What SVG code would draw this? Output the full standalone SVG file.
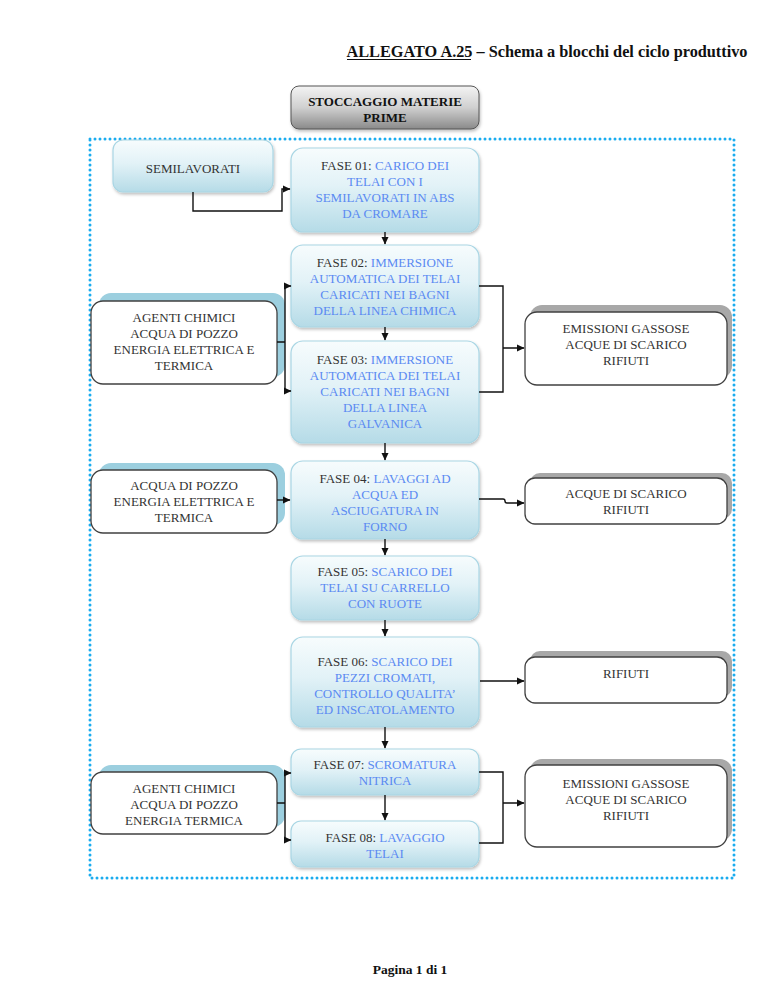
<svg xmlns="http://www.w3.org/2000/svg" width="768" height="994" viewBox="0 0 768 994">
<style>
text{font-family:"Liberation Serif","Times New Roman",serif;font-size:13px;fill:#333;text-anchor:middle}
.b{font-weight:bold;fill:#111}
.k{fill:#333}
.u{fill:#5b8af2}
.fase{fill:url(#gBlue);stroke:#a9d6e4;stroke-width:1.2;filter:url(#sh)}
.inp{fill:#fff;stroke:#404040;stroke-width:1.3}
.inpsh{fill:#9ccfdf}
.out{fill:#fff;stroke:#404040;stroke-width:1.3}
.outsh{fill:#a8a8a8}
.c{fill:none;stroke:#111;stroke-width:1.4}
</style>
<defs>
<linearGradient id="gBlue" x1="0" y1="0" x2="0" y2="1">
<stop offset="0" stop-color="#f7fcfd"/><stop offset="0.45" stop-color="#e2f2f7"/><stop offset="1" stop-color="#b5dbe7"/>
</linearGradient>
<linearGradient id="gGray" x1="0" y1="0" x2="0" y2="1">
<stop offset="0" stop-color="#f4f4f4"/><stop offset="0.5" stop-color="#d0d0d0"/><stop offset="1" stop-color="#8a8a8a"/>
</linearGradient>
<filter id="sh" x="-10%" y="-10%" width="125%" height="130%">
<feDropShadow dx="1" dy="2" stdDeviation="1.5" flood-color="#000" flood-opacity="0.25"/>
</filter>
<marker id="ar" markerWidth="8" markerHeight="8" refX="7" refY="4" orient="auto" markerUnits="userSpaceOnUse">
<path d="M0,0.5 L7.5,4 L0,7.5 Z" fill="#111"/>
</marker>
</defs>

<g id="title">
<text x="547" y="57" class="b" style="font-size:16px" textLength="401" lengthAdjust="spacingAndGlyphs">ALLEGATO A.25 – Schema a blocchi del ciclo produttivo</text>
<line x1="347" y1="59.5" x2="471" y2="59.5" stroke="#111" stroke-width="1"/>
</g>

<g id="frame">
<rect x="90" y="139" width="644" height="739" fill="none" stroke="#1aacef" stroke-width="3" stroke-dasharray="0 5" stroke-linecap="round"/>
</g>

<g id="stoccaggio">
<rect x="291" y="86" width="188" height="43" rx="8" fill="url(#gGray)" stroke="#555" stroke-width="1" filter="url(#sh)"/>
<text x="385" y="106" class="b">STOCCAGGIO MATERIE</text>
<text x="385" y="122" class="b">PRIME</text>
</g>

<g id="semilavorati">
<rect x="113" y="140" width="160" height="52" rx="10" class="fase"/>
<text x="193" y="173">SEMILAVORATI</text>
</g>

<g id="fase01">
<rect x="291" y="148" width="188" height="84" rx="12" class="fase"/>
<text x="385" y="170"><tspan class="k">FASE 01: </tspan><tspan class="u">CARICO DEI</tspan></text>
<text x="385" y="186" class="u">TELAI CON I</text>
<text x="385" y="202" class="u">SEMILAVORATI IN ABS</text>
<text x="385" y="218" class="u">DA CROMARE</text>
</g>

<g id="fase02">
<rect x="291" y="245" width="188" height="82" rx="12" class="fase"/>
<text x="385" y="267"><tspan class="k">FASE 02: </tspan><tspan class="u">IMMERSIONE</tspan></text>
<text x="385" y="283" class="u">AUTOMATICA DEI TELAI</text>
<text x="385" y="299" class="u">CARICATI NEI BAGNI</text>
<text x="385" y="315" class="u">DELLA LINEA CHIMICA</text>
</g>

<g id="fase03">
<rect x="291" y="341" width="188" height="102" rx="12" class="fase"/>
<text x="385" y="364"><tspan class="k">FASE 03: </tspan><tspan class="u">IMMERSIONE</tspan></text>
<text x="385" y="380" class="u">AUTOMATICA DEI TELAI</text>
<text x="385" y="396" class="u">CARICATI NEI BAGNI</text>
<text x="385" y="412" class="u">DELLA LINEA</text>
<text x="385" y="428" class="u">GALVANICA</text>
</g>

<g id="fase04">
<rect x="291" y="461" width="188" height="78" rx="12" class="fase"/>
<text x="385" y="483"><tspan class="k">FASE 04: </tspan><tspan class="u">LAVAGGI AD</tspan></text>
<text x="385" y="499" class="u">ACQUA ED</text>
<text x="385" y="515" class="u">ASCIUGATURA IN</text>
<text x="385" y="531" class="u">FORNO</text>
</g>

<g id="fase05">
<rect x="291" y="556" width="188" height="64" rx="12" class="fase"/>
<text x="385" y="576"><tspan class="k">FASE 05: </tspan><tspan class="u">SCARICO DEI</tspan></text>
<text x="385" y="592" class="u">TELAI SU CARRELLO</text>
<text x="385" y="608" class="u">CON RUOTE</text>
</g>

<g id="fase06">
<rect x="291" y="637" width="188" height="90" rx="12" class="fase"/>
<text x="385" y="666"><tspan class="k">FASE 06: </tspan><tspan class="u">SCARICO DEI</tspan></text>
<text x="385" y="682" class="u">PEZZI CROMATI,</text>
<text x="385" y="698" class="u">CONTROLLO QUALITA’</text>
<text x="385" y="714" class="u">ED INSCATOLAMENTO</text>
</g>

<g id="fase07">
<rect x="291" y="749" width="188" height="46" rx="10" class="fase"/>
<text x="385" y="769"><tspan class="k">FASE 07: </tspan><tspan class="u">SCROMATURA</tspan></text>
<text x="385" y="785" class="u">NITRICA</text>
</g>

<g id="fase08">
<rect x="291" y="821" width="188" height="46" rx="10" class="fase"/>
<text x="385" y="842"><tspan class="k">FASE 08: </tspan><tspan class="u">LAVAGGIO</tspan></text>
<text x="385" y="858" class="u">TELAI</text>
</g>

<g id="input1">
<rect x="99" y="293" width="186" height="84" rx="12" class="inpsh"/>
<rect x="91" y="301" width="186" height="83" rx="12" class="inp"/>
<text x="184" y="322">AGENTI CHIMICI</text>
<text x="184" y="338">ACQUA DI POZZO</text>
<text x="184" y="354">ENERGIA ELETTRICA E</text>
<text x="184" y="370">TERMICA</text>
</g>

<g id="input2">
<rect x="99" y="463" width="186" height="62" rx="12" class="inpsh"/>
<rect x="91" y="470" width="186" height="63" rx="12" class="inp"/>
<text x="184" y="490">ACQUA DI POZZO</text>
<text x="184" y="506">ENERGIA ELETTRICA E</text>
<text x="184" y="522">TERMICA</text>
</g>

<g id="input3">
<rect x="99" y="765" width="186" height="62" rx="12" class="inpsh"/>
<rect x="91" y="772" width="186" height="62" rx="12" class="inp"/>
<text x="184" y="793">AGENTI CHIMICI</text>
<text x="184" y="809">ACQUA DI POZZO</text>
<text x="184" y="825">ENERGIA TERMICA</text>
</g>

<g id="output1">
<rect x="530" y="305" width="202" height="73" rx="12" class="outsh"/>
<rect x="525" y="312" width="202" height="73" rx="12" class="out"/>
<text x="626" y="333">EMISSIONI GASSOSE</text>
<text x="626" y="349">ACQUE DI SCARICO</text>
<text x="626" y="365">RIFIUTI</text>
</g>

<g id="output2">
<rect x="530" y="473" width="202" height="46" rx="10" class="outsh"/>
<rect x="525" y="478" width="202" height="46" rx="10" class="out"/>
<text x="626" y="498">ACQUE DI SCARICO</text>
<text x="626" y="514">RIFIUTI</text>
</g>

<g id="output3">
<rect x="530" y="651" width="202" height="46" rx="10" class="outsh"/>
<rect x="525" y="657" width="202" height="46" rx="10" class="out"/>
<text x="626" y="678">RIFIUTI</text>
</g>

<g id="output4">
<rect x="530" y="759" width="202" height="82" rx="12" class="outsh"/>
<rect x="525" y="765" width="202" height="82" rx="12" class="out"/>
<text x="626" y="788">EMISSIONI GASSOSE</text>
<text x="626" y="804">ACQUE DI SCARICO</text>
<text x="626" y="820">RIFIUTI</text>
</g>

<g id="connectors">
<path class="c" d="M193,192 V211 H282 V189 H290" marker-end="url(#ar)"/>
<path class="c" d="M385,232 V244" marker-end="url(#ar)"/>
<path class="c" d="M385,327 V340" marker-end="url(#ar)"/>
<path class="c" d="M385,443 V460" marker-end="url(#ar)"/>
<path class="c" d="M385,539 V555" marker-end="url(#ar)"/>
<path class="c" d="M385,620 V636" marker-end="url(#ar)"/>
<path class="c" d="M385,727 V748" marker-end="url(#ar)"/>
<path class="c" d="M385,795 V820" marker-end="url(#ar)"/>
<path class="c" d="M277,342 H285 M285,286 V391"/>
<path class="c" d="M285,286 H291" marker-end="url(#ar)"/>
<path class="c" d="M285,391 H291" marker-end="url(#ar)"/>
<path class="c" d="M479,286 H503 V392 H479 M503,348 H524" marker-end="url(#ar)"/>
<path class="c" d="M277,500 H290" marker-end="url(#ar)"/>
<path class="c" d="M479,499 H503 Q505,499 505,501 Q505,503 507,503 H524" marker-end="url(#ar)"/>
<path class="c" d="M480,681 H524" marker-end="url(#ar)"/>
<path class="c" d="M277,803 H285 M285,773 V840"/>
<path class="c" d="M285,773 H291" marker-end="url(#ar)"/>
<path class="c" d="M285,840 H291" marker-end="url(#ar)"/>
<path class="c" d="M479,772 H503 V843 H479 M503,803 H524" marker-end="url(#ar)"/>
</g>

<g id="footer">
<text x="410" y="974" class="b" style="font-size:13.5px">Pagina 1 di 1</text>
</g>
</svg>
